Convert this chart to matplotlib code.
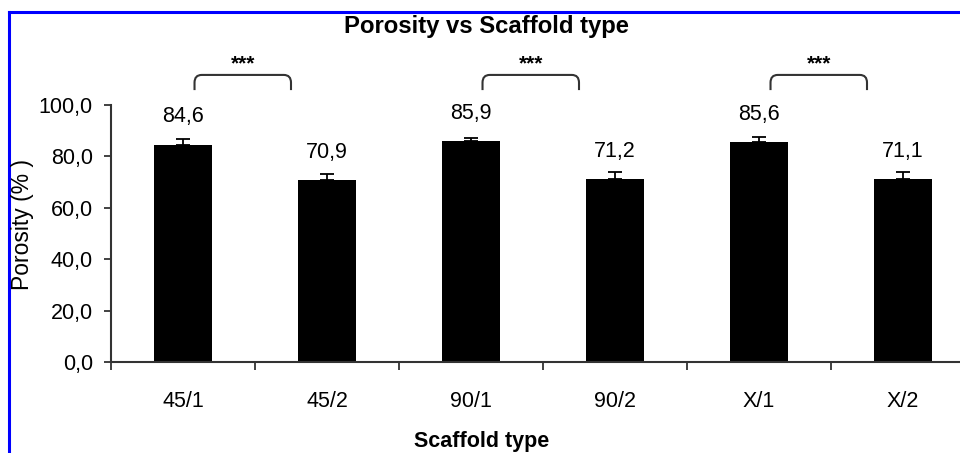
import matplotlib.pyplot as plt
from matplotlib.path import Path
from matplotlib.patches import PathPatch
from matplotlib.lines import Line2D
import numpy as np

plt.rcParams['font.family'] = ['Liberation Sans', 'DejaVu Sans']

# Data
categories = ['45/1', '45/2', '90/1', '90/2', 'X/1', 'X/2']
porosity = [84.6, 70.9, 85.9, 71.2, 85.6, 71.1]
porosity_err = [2.0, 2.4, 1.4, 2.7, 1.8, 2.9]
value_labels = ['84,6', '70,9', '85,9', '71,2', '85,6', '71,1']
pairs = [(0, 1), (2, 3), (4, 5)]
y_ticks = [0, 20, 40, 60, 80, 100]

W, H = 960, 453
fig = plt.figure(figsize=(W / 100, H / 100), dpi=100)
ax = fig.add_axes([111 / W, (H - 362) / H, 864 / W, (362 - 105) / H])

x = np.arange(len(categories))
ax.bar(x, porosity, width=0.4, color='black', zorder=2)
# only the upper half of the error bar is visible above the bar
ax.errorbar(x, porosity, yerr=[np.zeros(len(x)), porosity_err], fmt='none',
            ecolor='black', elinewidth=1.3, capsize=5, capthick=1.3, zorder=3)

for xi, v, lab in zip(x, porosity, value_labels):
    ax.annotate(lab, (xi, v), xytext=(0, 20), textcoords='offset points',
                ha='center', va='center', fontsize=15.5)

# significance brackets
for a, b in pairs:
    x0, x1 = a + 0.08, a + 0.75
    y0, y1 = 105.8, 111.7
    rx, ry = 0.05, 3.0
    verts = [(x0, y0), (x0, y1 - ry), (x0, y1), (x0 + rx, y1),
             (x1 - rx, y1), (x1, y1), (x1, y1 - ry), (x1, y0)]
    codes = [Path.MOVETO, Path.LINETO, Path.CURVE3, Path.CURVE3,
             Path.LINETO, Path.CURVE3, Path.CURVE3, Path.LINETO]
    ax.add_patch(PathPatch(Path(verts, codes), fill=False, edgecolor='#333333',
                           lw=1.5, clip_on=False))
    ax.text((x0 + x1) / 2, 116.0, '***', ha='center', va='center',
            fontsize=15, fontweight='bold', clip_on=False)

ax.set_xlim(-0.5, 5.5)
ax.set_ylim(0, 100)
ax.set_yticks(y_ticks)
ax.set_yticklabels([f'{t:.1f}'.replace('.', ',') for t in y_ticks], fontsize=15.5)
ax.set_xticks(x)
ax.set_xticklabels(categories, fontsize=15.5)
ax.set_xticks(np.arange(-0.5, 6.0, 1.0), minor=True)
ax.tick_params(axis='x', which='major', length=0, pad=21)
ax.tick_params(axis='x', which='minor', length=6, width=1.3, direction='out', color='#333333')
ax.tick_params(axis='y', length=5, width=1.3, pad=8, color='#333333')

for s in ['top', 'right']:
    ax.spines[s].set_visible(False)
for s in ['left', 'bottom']:
    ax.spines[s].set_linewidth(1.5)
    ax.spines[s].set_color('#333333')

fig.text(486 / W, 1 - 26 / H, 'Porosity vs Scaffold type', ha='center', va='center',
         fontsize=17.2, fontweight='bold')
fig.text(482 / W, 1 - 441 / H, 'Scaffold type', ha='center', va='center',
         fontsize=15.5, fontweight='bold')
fig.text(22 / W, 1 - 225 / H, 'Porosity (% )', ha='center', va='center',
         rotation=90, fontsize=16.5)

# blue frame on top and left
fig.add_artist(Line2D([9 / W, 1], [1 - 12 / H, 1 - 12 / H], color='blue', lw=2.2))
fig.add_artist(Line2D([9 / W, 9 / W], [0, 1 - 12 / H], color='blue', lw=2.2))

fig.savefig('out.png', dpi=100)
